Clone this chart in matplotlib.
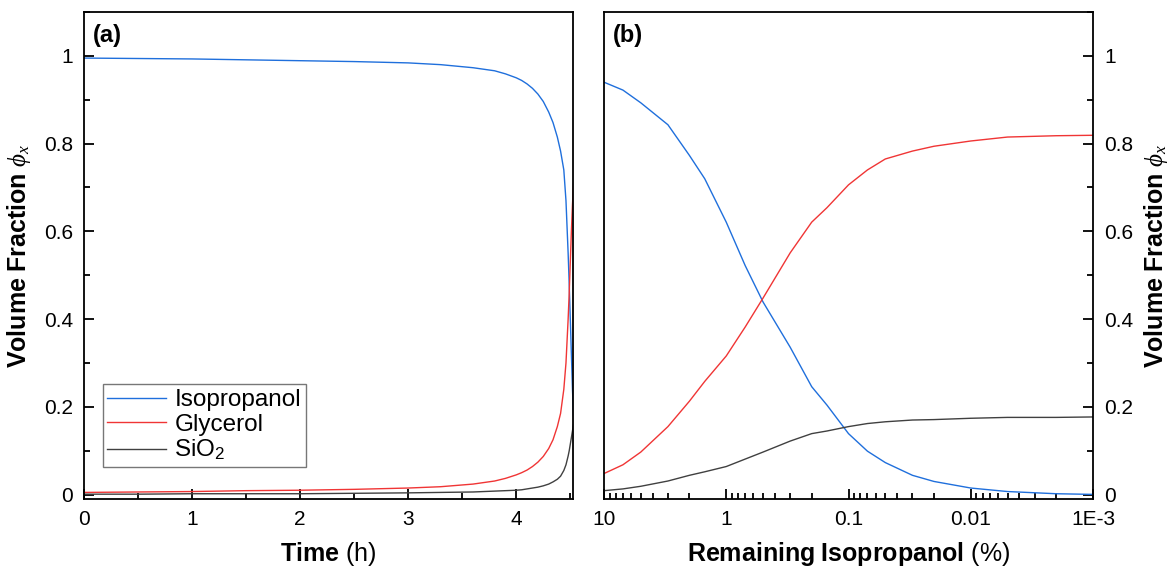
import numpy as np
import matplotlib
matplotlib.use("Agg")
import matplotlib.pyplot as plt
from matplotlib.ticker import MultipleLocator, LogLocator, NullFormatter

plt.rcParams['font.family'] = ['Liberation Sans', 'DejaVu Sans']
plt.rcParams['mathtext.fontset'] = 'custom'
plt.rcParams['mathtext.rm'] = 'Liberation Sans'
plt.rcParams['mathtext.bf'] = 'Liberation Sans:bold'
plt.rcParams['mathtext.it'] = 'Liberation Serif:italic'

# panel (a): volume fraction vs drying time
time_h = [0, 0.5, 1, 1.5, 2, 2.5, 3, 3.3, 3.6, 3.8, 3.9, 4.0, 4.05, 4.1, 4.15, 4.2,
          4.25, 4.3, 4.34, 4.38, 4.41, 4.44, 4.46, 4.48, 4.49, 4.50, 4.51, 4.52, 4.53]
ipa_t = [0.995, 0.994, 0.993, 0.991, 0.989, 0.987, 0.984, 0.980, 0.973, 0.966, 0.959,
         0.950, 0.944, 0.936, 0.926, 0.913, 0.896, 0.872, 0.848, 0.815, 0.783, 0.74,
         0.67, 0.55, 0.48, 0.40, 0.32, 0.24, 0.18]
gly_t = [0.005, 0.006, 0.007, 0.009, 0.010, 0.012, 0.015, 0.018, 0.024, 0.031, 0.037,
         0.045, 0.050, 0.056, 0.064, 0.074, 0.087, 0.105, 0.125, 0.155, 0.185, 0.24,
         0.30, 0.40, 0.46, 0.53, 0.60, 0.66, 0.71]
sio2_t = [0.001, 0.001, 0.002, 0.002, 0.002, 0.003, 0.004, 0.005, 0.006, 0.008, 0.009,
          0.010, 0.011, 0.013, 0.015, 0.017, 0.020, 0.024, 0.029, 0.035, 0.042, 0.055,
          0.068, 0.088, 0.10, 0.115, 0.13, 0.145, 0.16]

# panel (b): volume fraction vs remaining isopropanol (%)
remain = [10, 7, 5, 3, 2, 1.5, 1, 0.7, 0.5, 0.3, 0.2, 0.15, 0.1, 0.07, 0.05, 0.03,
          0.02, 0.01, 0.005, 0.002, 0.001]
ipa_r = [0.940, 0.922, 0.893, 0.843, 0.773, 0.720, 0.621, 0.522, 0.439, 0.336, 0.246,
         0.204, 0.139, 0.099, 0.073, 0.044, 0.030, 0.015, 0.007, 0.002, 0.0005]
gly_r = [0.048, 0.068, 0.097, 0.155, 0.213, 0.258, 0.316, 0.382, 0.448, 0.551, 0.621,
         0.654, 0.706, 0.740, 0.765, 0.783, 0.794, 0.806, 0.815, 0.818, 0.819]
sio2_r = [0.009, 0.013, 0.019, 0.031, 0.044, 0.052, 0.064, 0.081, 0.097, 0.122, 0.139,
          0.145, 0.155, 0.162, 0.166, 0.170, 0.171, 0.174, 0.176, 0.176, 0.177]

c_ipa = '#1f6fdc'
c_gly = '#f03535'
c_sio = '#404040'
lw = 1.0
tick_fs = 15
lab_fs = 18

fig = plt.figure(figsize=(11.72, 5.71), dpi=100)
ax1 = fig.add_axes([84 / 1172, 1 - 499 / 571, (573 - 84) / 1172, 487 / 571])
ax2 = fig.add_axes([604 / 1172, 1 - 499 / 571, (1093 - 604) / 1172, 487 / 571])

ylab = r'$\mathbf{Volume\ Fraction}$ $\phi_x$'
yticks = [0, 0.2, 0.4, 0.6, 0.8, 1]
ylabels = ['0', '0.2', '0.4', '0.6', '0.8', '1']

# (a)
ax1.plot(time_h, ipa_t, color=c_ipa, lw=lw, label='Isopropanol')
ax1.plot(time_h, gly_t, color=c_gly, lw=lw, label='Glycerol')
ax1.plot(time_h, sio2_t, color=c_sio, lw=lw, label=r'SiO$_2$')
ax1.set_xlim(0, 4.525)
ax1.set_ylim(-0.01, 1.1)
ax1.set_xticks([0, 1, 2, 3, 4])
ax1.set_xticklabels(['0', '1', '2', '3', '4'])
ax1.xaxis.set_minor_locator(MultipleLocator(0.5))
ax1.set_yticks(yticks)
ax1.set_yticklabels(ylabels)
ax1.yaxis.set_minor_locator(MultipleLocator(0.1))
ax1.tick_params(which='both', direction='in', top=False, right=False,
                labelsize=tick_fs, width=1.3)
ax1.tick_params(which='major', length=7, pad=8)
ax1.tick_params(which='minor', length=4)
ax1.set_xlabel(r'$\mathbf{Time}$ (h)', fontsize=lab_fs, labelpad=8)
ax1.set_ylabel(ylab, fontsize=lab_fs, labelpad=8)
ax1.text(0.018, 0.975, '(a)', transform=ax1.transAxes, fontsize=17,
         fontweight='bold', va='top', ha='left')
leg = ax1.legend(loc='lower left', bbox_to_anchor=(0.038, 0.065), fontsize=17.5,
                 frameon=True, fancybox=False, edgecolor='#555555',
                 handlelength=2.4, handletextpad=0.35, borderpad=0.2,
                 labelspacing=0.1, borderaxespad=0)
leg.get_frame().set_linewidth(1.0)

# (b)
ax2.plot(remain, ipa_r, color=c_ipa, lw=lw)
ax2.plot(remain, gly_r, color=c_gly, lw=lw)
ax2.plot(remain, sio2_r, color=c_sio, lw=lw)
ax2.set_xscale('log')
ax2.set_xlim(10, 0.001)
ax2.set_ylim(-0.01, 1.1)
ax2.set_xticks([10, 1, 0.1, 0.01, 0.001])
ax2.set_xticklabels(['10', '1', '0.1', '0.01', '1E-3'])
ax2.xaxis.set_minor_locator(LogLocator(base=10, subs=np.arange(2, 10), numticks=20))
ax2.xaxis.set_minor_formatter(NullFormatter())
ax2.set_yticks(yticks)
ax2.set_yticklabels(ylabels)
ax2.yaxis.set_minor_locator(MultipleLocator(0.1))
ax2.yaxis.tick_right()
ax2.yaxis.set_label_position('right')
ax2.tick_params(which='both', direction='in', top=False, left=False,
                labelsize=tick_fs, width=1.3)
ax2.tick_params(which='major', length=7, pad=8)
ax2.tick_params(which='minor', length=4)
ax2.set_xlabel(r'$\mathbf{Remaining\ Isopropanol}$ (%)', fontsize=lab_fs, labelpad=8)
ax2.set_ylabel(ylab, fontsize=lab_fs, labelpad=6, rotation=90)
ax2.text(0.018, 0.975, '(b)', transform=ax2.transAxes, fontsize=17,
         fontweight='bold', va='top', ha='left')

for ax in (ax1, ax2):
    for s in ax.spines.values():
        s.set_linewidth(1.3)

fig.savefig('out.png', dpi=100)
